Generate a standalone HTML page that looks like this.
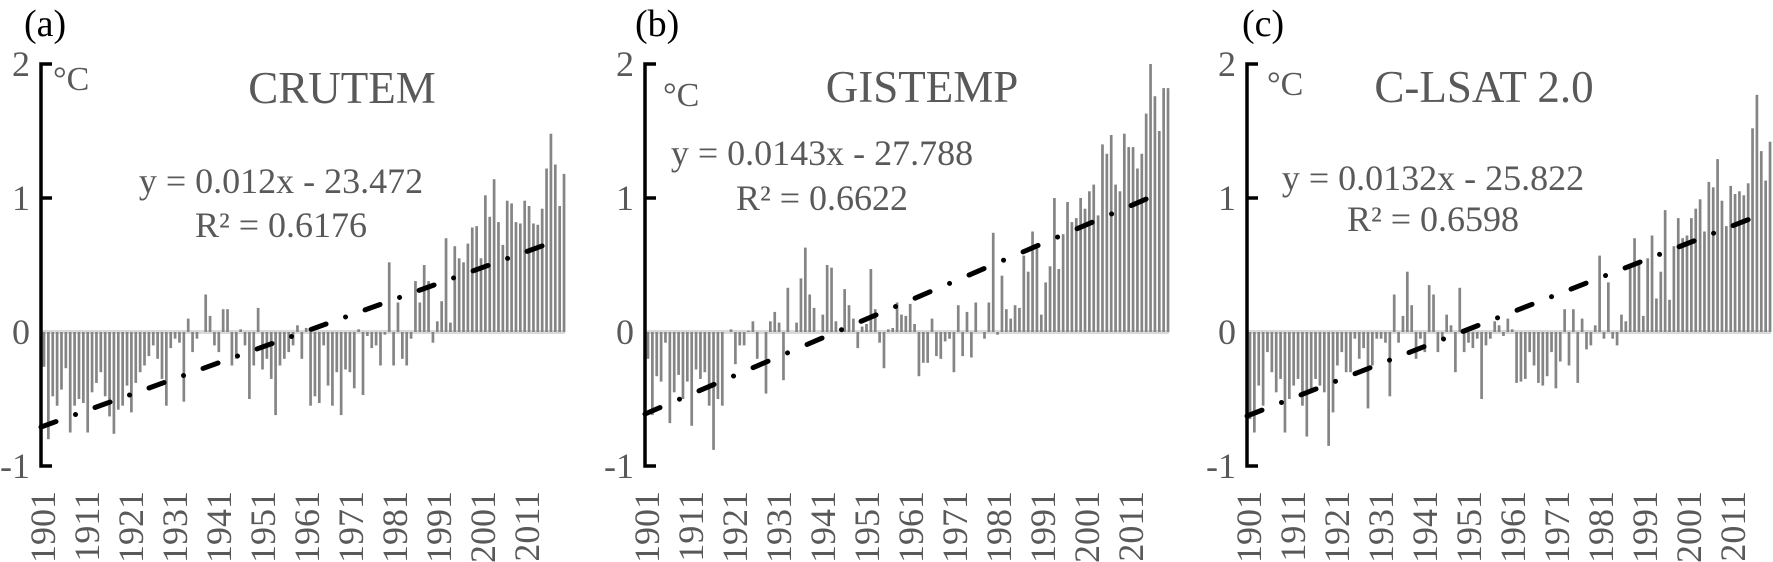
<!DOCTYPE html>
<html><head><meta charset="utf-8">
<style>html,body{margin:0;padding:0;background:#fff;}svg{display:block;}
text{font-family:"Liberation Serif",serif;}</style></head>
<body>
<svg id="s" width="1773" height="562" viewBox="0 0 1773 562" xmlns="http://www.w3.org/2000/svg"></svg>
<script>
var A=[-0.26,-0.80,-0.48,-0.55,-0.43,-0.27,-0.75,-0.55,-0.50,-0.53,
-0.75,-0.45,-0.38,-0.30,-0.48,-0.63,-0.76,-0.58,-0.55,-0.40,
-0.60,-0.38,-0.30,-0.25,-0.18,-0.10,-0.20,-0.35,-0.55,-0.12,
-0.05,-0.08,-0.52,0.10,-0.15,-0.05,0.0,0.28,0.12,-0.10,
-0.15,0.17,0.17,-0.25,-0.20,0.02,-0.10,-0.50,-0.25,0.18,
-0.28,-0.20,-0.35,-0.62,-0.25,-0.20,-0.15,-0.10,0.05,-0.20,
0.03,-0.55,-0.48,-0.53,-0.10,-0.40,-0.55,-0.30,-0.62,-0.28,
-0.30,-0.42,0.02,-0.47,-0.03,-0.12,-0.10,-0.25,-0.02,0.52,
-0.25,0.22,-0.20,-0.25,-0.05,0.38,0.22,0.50,0.38,-0.08,
0.08,0.23,0.70,0.07,0.64,0.55,0.52,0.66,0.78,0.79,
0.55,1.02,0.86,1.14,0.82,0.65,0.98,0.96,0.82,0.81,
0.98,0.94,0.81,0.80,0.92,1.22,1.48,1.25,0.94,1.18];
var B=[-0.20,-0.62,-0.33,-0.37,-0.08,-0.68,-0.45,-0.32,-0.50,-0.37,
-0.70,-0.28,-0.35,-0.30,-0.55,-0.88,-0.50,-0.55,0.0,0.02,
-0.24,-0.10,-0.10,0.01,0.08,-0.20,0.0,-0.46,0.08,0.15,
0.07,-0.36,0.33,0.0,0.07,0.40,0.63,0.28,0.18,0.0,
0.13,0.50,0.48,0.08,0.0,0.32,0.20,0.10,-0.12,0.04,
0.06,0.47,0.17,-0.08,-0.27,0.02,0.03,0.22,0.13,0.12,
0.21,0.06,-0.33,-0.23,-0.23,0.10,-0.18,-0.20,-0.07,-0.05,
-0.30,0.20,-0.18,0.15,-0.19,0.22,0.0,-0.05,0.22,0.74,
-0.02,0.42,0.17,0.10,0.20,0.18,0.57,0.45,0.75,0.63,
0.13,0.37,0.49,1.0,0.47,0.73,0.97,0.82,0.85,1.0,
0.92,1.05,1.1,0.87,1.4,1.33,1.47,1.1,1.05,1.48,
1.38,1.38,1.22,1.33,1.63,2.0,1.76,1.5,1.82,1.82];
var C=[-0.65,-0.75,-0.40,-0.55,-0.15,-0.30,-0.45,-0.35,-0.75,-0.50,
-0.40,-0.35,-0.55,-0.78,-0.45,-0.35,-0.40,-0.45,-0.85,-0.60,
-0.25,-0.15,-0.30,-0.30,-0.05,-0.20,-0.12,-0.57,-0.25,-0.05,
-0.05,-0.08,-0.48,0.28,-0.08,0.12,0.45,0.20,-0.20,-0.05,
-0.15,0.35,0.28,-0.15,-0.05,0.13,0.05,-0.30,0.33,-0.15,
-0.08,-0.12,-0.05,-0.50,-0.10,-0.05,0.08,0.05,-0.03,0.10,
0.02,-0.38,-0.37,-0.35,-0.15,-0.25,-0.38,-0.40,-0.33,-0.15,
-0.42,-0.22,0.17,-0.25,0.17,-0.38,0.10,-0.13,-0.10,0.05,
0.57,-0.05,0.37,-0.05,-0.10,0.13,0.08,0.50,0.70,0.52,
0.12,0.55,0.72,0.25,0.45,0.91,0.24,0.64,0.85,0.70,
0.72,0.85,0.92,0.99,0.75,1.12,1.08,1.29,0.98,0.79,
1.09,1.03,1.05,1.02,1.11,1.52,1.77,1.35,1.13,1.42];
var P=[
 {ax:41,d:A,lab:"(a)",lx:24,cx:53,cy:90,t:"CRUTEM",tx:342,ty:103,e:"y = 0.012x - 23.472",ex:281,ey:193,r:"R² = 0.6176",ry:237,t0:[41,427],t1:[553,242]},
 {ax:645,d:B,lab:"(b)",lx:635,cx:663,cy:106,t:"GISTEMP",tx:922,ty:102,e:"y = 0.0143x - 27.788",ex:822,ey:165,r:"R² = 0.6622",ry:210,t0:[645,414],t1:[1165,191]},
 {ax:1247,d:C,lab:"(c)",lx:1242,cx:1267,cy:95,t:"C-LSAT 2.0",tx:1484,ty:102,e:"y = 0.0132x - 25.822",ex:1433,ey:190,r:"R² = 0.6598",ry:231,t0:[1247,416],t1:[1755,217]}
];
var Z=332,U=134,h='';
P.forEach(function(p){
 var ax=p.ax;
 h+='<line x1="'+(ax)+'" y1="'+Z+'" x2="'+(ax+524)+'" y2="'+Z+'" stroke="#d9d9d9" stroke-width="4"/>';
 for(var i=0;i<120;i++){var v=p.d[i]||0;var x=ax+3+4.37*i;var y=v>0?Z-v*U:Z;var hh=Math.abs(v)*U;
  h+='<rect x="'+(x-1.35).toFixed(2)+'" y="'+y.toFixed(1)+'" width="2.7" height="'+hh.toFixed(1)+'" fill="#858585"/>';}
 h+='<path d="M'+(ax+11)+' 64 H'+ax+' V466 H'+(ax+11)+' M'+ax+' 198 H'+(ax+11)+'" fill="none" stroke="#000" stroke-width="3.5"/>';
 var ls=[["2",64],["1",198],["0",332],["-1",466]];
 ls.forEach(function(l){h+='<text x="'+(ax-11)+'" y="'+(l[1]+12)+'" font-size="36" fill="#595959" text-anchor="end">'+l[0]+'</text>';});
 var dx=p.t1[0]-p.t0[0];
 h+='<line x1="'+p.t0[0]+'" y1="'+p.t0[1]+'" x2="'+p.t1[0]+'" y2="'+p.t1[1]+'" pathLength="'+dx+'" stroke="#000" stroke-width="5" stroke-linecap="round" stroke-dasharray="15 19.5 0.01 19.5"/>';
 h+='<text x="'+p.lx+'" y="36" font-size="38" fill="#000">'+p.lab+'</text>';
 h+='<text x="'+p.cx+'" y="'+p.cy+'" font-size="34" fill="#595959">°C</text>';
 h+='<text x="'+p.tx+'" y="'+p.ty+'" font-size="45" fill="#595959" text-anchor="middle">'+p.t+'</text>';
 h+='<text x="'+p.ex+'" y="'+p.ey+'" font-size="36" fill="#595959" text-anchor="middle">'+p.e+'</text>';
 h+='<text x="'+p.ex+'" y="'+p.ry+'" font-size="36" fill="#595959" text-anchor="middle">'+p.r+'</text>';
 for(var k=0;k<12;k++){var yr=1901+10*k;var xc=ax+2+4.4*10*k;var xb=xc+12;
  h+='<text transform="translate('+xb.toFixed(1)+',491) rotate(-90)" x="0" y="0" font-size="36" fill="#595959" text-anchor="end">'+yr+'</text>';}
});
document.getElementById('s').innerHTML=h;
</script>
</body></html>
